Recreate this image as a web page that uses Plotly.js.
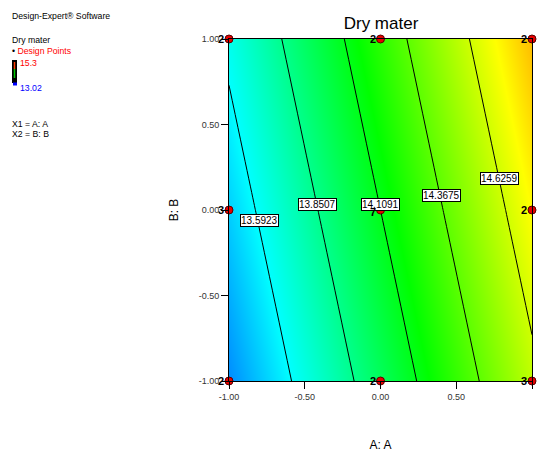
<!DOCTYPE html>
<html><head><meta charset="utf-8">
<script src="https://cdn.plot.ly/plotly-3.0.1.min.js"></script>
<style>html,body{margin:0;padding:0;background:#fff}</style>
</head><body><div id="chart" style="width:540px;height:452px"></div>
<script>
// ---- data ----
const aValues = [-1, 0, 1];
const bValues = [-1, 0, 1];
const dryMater = [
  [13.3339, 13.9597, 14.5855],
  [13.4833, 14.1091, 14.7349],
  [13.6327, 14.2585, 14.8843]
];
const contourLevels = [13.5923, 13.8507, 14.1091, 14.3675, 14.6259];
const labelA = [-0.80, -0.415, 0.0, 0.400, 0.785];
const labelB = [-0.064, 0.035, 0.035, 0.085, 0.187];
const designA = [-1, 0, 1, -1, 0, 1, -1, 0, 1];
const designB = [1, 1, 1, 0, 0, 0, -1, -1, -1];
const designCount = ['2', '2', '2', '3', '7', '2', '2', '2', '3'];
const tickVals = [-1, -0.5, 0, 0.5, 1];
const tickText = ['-1.00', '-0.50', '0.00', '0.50', '1.00'];
const legendHigh = '15.3';
const legendLow = '13.02';
const zMin = 13.02, zMax = 15.3;

// ---- layout helpers ----
const L = 229, R = 532, T = 39, B = 381, W = 540, H = 452;
const px = v => (v - L) / (R - L);
const py = v => (B - v) / (B - T);
const FONT = 'Liberation Sans, Arial, sans-serif';

const rainbow = [[0, 'rgb(0,0,255)'], [0.25, 'rgb(0,255,255)'], [0.5, 'rgb(0,255,0)'], [0.75, 'rgb(255,255,0)'], [1, 'rgb(255,0,0)']];

const heat = {
  type: 'heatmap', x: aValues, y: bValues, z: dryMater,
  zsmooth: 'best', zmin: zMin, zmax: zMax, colorscale: rainbow,
  showscale: false, hoverinfo: 'skip'
};
const lines = {
  type: 'contour', x: aValues, y: bValues, z: dryMater,
  autocontour: false,
  contours: {start: contourLevels[0], end: contourLevels[contourLevels.length - 1],
             size: (contourLevels[contourLevels.length - 1] - contourLevels[0]) / (contourLevels.length - 1),
             coloring: 'none'},
  line: {color: 'black', width: 1, smoothing: 0},
  showscale: false, hoverinfo: 'skip'
};
const pts = {
  type: 'scatter', mode: 'markers', x: designA, y: designB, cliponaxis: false,
  marker: {color: 'rgb(230,0,0)', size: 8, line: {color: 'rgb(90,0,0)', width: 1}},
  hoverinfo: 'skip'
};

const ann = [];
contourLevels.forEach((lv, i) => ann.push({
  x: labelA[i], y: labelB[i], xref: 'x', yref: 'y', text: lv.toFixed(4), showarrow: false,
  bgcolor: 'white', bordercolor: 'black', borderwidth: 1, borderpad: 0,
  font: {family: FONT, size: 10, color: 'black'}
}));
designCount.forEach((c, i) => ann.push({
  x: designA[i], y: designB[i], xref: 'x', yref: 'y', text: '<b>' + c + '</b>', showarrow: false,
  xanchor: 'right', yanchor: 'middle', xshift: -3, yshift: (c === '7' ? -2 : 0),
  font: {family: FONT, size: 11, color: 'black'}
}));
const leftText = (t, x, y, color) => ann.push({
  x: px(x), y: py(y), xref: 'paper', yref: 'paper', xanchor: 'left', yanchor: 'middle',
  text: t, showarrow: false, font: {family: FONT, size: 8.7, color: color || 'black'}
});
leftText('Design-Expert® Software', 10, 16);
leftText('Dry mater', 10, 40);
leftText('<span style="color:black">•</span> Design Points', 10, 51, 'red');
leftText(legendHigh, 18, 63, 'red');
leftText(legendLow, 18, 88, 'blue');
leftText('X1 = A: A', 10, 124);
leftText('X2 = B: B', 10, 134);

const shapes = [
  {type: 'rect', xref: 'paper', yref: 'paper', x0: px(12), x1: px(17), y0: py(83), y1: py(60),
   fillcolor: 'black', line: {width: 0}},
  {type: 'line', xref: 'paper', yref: 'paper', x0: px(14.5), x1: px(14.5), y0: py(69), y1: py(62),
   line: {color: 'rgb(255,60,0)', width: 1.5}},
  {type: 'line', xref: 'paper', yref: 'paper', x0: px(14.5), x1: px(14.5), y0: py(78), y1: py(69),
   line: {color: 'rgb(0,200,0)', width: 1.5}},
  {type: 'rect', xref: 'paper', yref: 'paper', x0: px(13), x1: px(17), y0: py(85.5), y1: py(82.5),
   fillcolor: 'rgb(0,0,255)', line: {width: 0}}
];

const axisCommon = {
  range: [-1, 1], tickvals: tickVals, ticktext: tickText, ticks: 'outside', ticklen: 7,
  tickcolor: 'black', tickfont: {family: FONT, size: 9, color: '#333'},
  showline: true, mirror: true, linecolor: 'black', linewidth: 1,
  showgrid: false, zeroline: false, automargin: false
};

const layout = {
  width: W, height: H, margin: {l: L, r: W - R, t: T, b: H - B},
  paper_bgcolor: 'white', plot_bgcolor: 'white', showlegend: false,
  font: {family: FONT},
  title: {text: 'Dry mater', x: px(381), xref: 'paper', xanchor: 'center',
          y: 1 - 23 / H, yref: 'container', yanchor: 'middle',
          font: {family: FONT, size: 17, color: 'black'}},
  xaxis: Object.assign({}, axisCommon, {title: {text: 'A: A', standoff: 39, font: {family: FONT, size: 12, color: 'black'}}}),
  yaxis: Object.assign({}, axisCommon, {title: {text: 'B: B', standoff: 17, font: {family: FONT, size: 12, color: 'black'}}}),
  annotations: ann, shapes: shapes
};

Plotly.newPlot('chart', [heat, lines, pts], layout, {displayModeBar: false, staticPlot: true});
</script></body></html>
